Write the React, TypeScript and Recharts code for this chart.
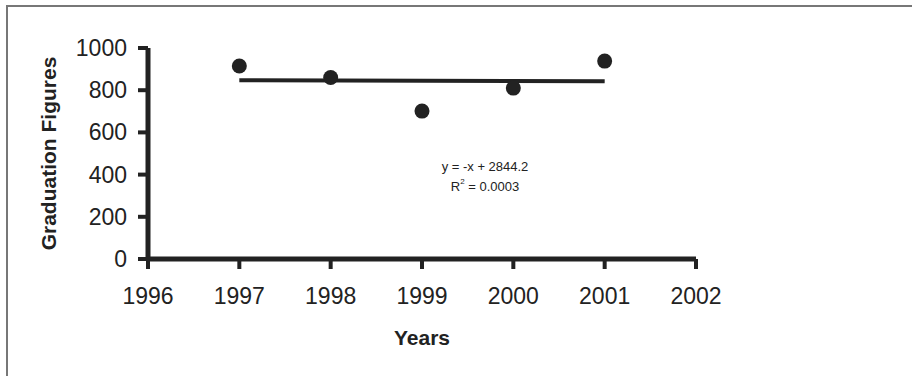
import {
  ComposedChart,
  Line,
  ReferenceLine,
  Scatter,
  XAxis,
  YAxis,
} from 'recharts';

const years = [1997, 1998, 1999, 2000, 2001];
const graduates = [915, 860, 701, 810, 938];

// trend line end points, from y = -x + 2844.2
const trendYears = [1997, 2001];
const trendValues = [847, 843];

const xTicks = [1996, 1997, 1998, 1999, 2000, 2001, 2002];
const yTicks = [0, 200, 400, 600, 800, 1000];

const equationText = 'y = -x + 2844.2';
const rSquaredText = '0.0003';

const points = years.map((year, i) => ({ year, value: graduates[i] }));
const trend = trendYears.map((year, i) => ({ year, value: trendValues[i] }));

const INK = '#222';
const FONT = '"Liberation Sans", Arial, Helvetica, sans-serif';
const TICK_LEN = 10;
const X_GAP = 18;
const Y_GAP = 11;

type ViewBox = { x: number; y: number; width: number; height: number };
type TickProps = { x?: number; y?: number; payload?: { value: number } };

function XTick({ x = 0, y = 0, payload }: TickProps) {
  const axisY = y - X_GAP - TICK_LEN;
  return (
    <g>
      <line x1={x} x2={x} y1={axisY} y2={axisY + TICK_LEN} stroke={INK} strokeWidth={4} />
      <text
        x={x}
        y={y + 9}
        textAnchor="middle"
        dominantBaseline="central"
        fontFamily={FONT}
        fontSize={23}
        fill={INK}
      >
        {payload?.value}
      </text>
    </g>
  );
}

function YTick({ x = 0, y = 0, payload }: TickProps) {
  const axisX = x + Y_GAP + TICK_LEN;
  return (
    <g>
      <line x1={axisX - TICK_LEN} x2={axisX} y1={y} y2={y} stroke={INK} strokeWidth={4} />
      <text
        x={x}
        y={y}
        textAnchor="end"
        dominantBaseline="central"
        fontFamily={FONT}
        fontSize={23}
        fill={INK}
      >
        {payload?.value}
      </text>
    </g>
  );
}

function YLabel({ viewBox }: { viewBox?: ViewBox }) {
  if (!viewBox) return null;
  const cx = viewBox.x + 48;
  const cy = viewBox.y + viewBox.height / 2;
  return (
    <text
      x={cx}
      y={cy}
      transform={`rotate(-90 ${cx} ${cy})`}
      textAnchor="middle"
      dominantBaseline="central"
      fontFamily={FONT}
      fontWeight="bold"
      fontSize={21}
      fill={INK}
    >
      Graduation Figures
    </text>
  );
}

function XLabel({ viewBox }: { viewBox?: ViewBox }) {
  if (!viewBox) return null;
  return (
    <text
      x={viewBox.x + viewBox.width / 2}
      y={viewBox.y + 78}
      textAnchor="middle"
      dominantBaseline="central"
      fontFamily={FONT}
      fontWeight="bold"
      fontSize={21}
      fill={INK}
    >
      Years
    </text>
  );
}

export default function App() {
  return (
    <div
      style={{
        position: 'fixed',
        left: 0,
        top: 0,
        width: 912,
        height: 376,
        background: '#fff',
      }}
    >
      <div
        style={{
          position: 'absolute',
          left: 6,
          top: 5,
          right: 0,
          bottom: 0,
          borderLeft: '2px solid #777',
          borderTop: '2px solid #777',
        }}
      />
      <div style={{ position: 'absolute', left: 0, top: 0 }}>
        <ComposedChart
          width={912}
          height={376}
          margin={{ top: 48, right: 216, bottom: 77, left: 0 }}
        >
          <XAxis
            type="number"
            dataKey="year"
            domain={[1996, 2002]}
            ticks={xTicks}
            allowDecimals={false}
            height={40}
            axisLine={false}
            tickLine={false}
            tickSize={TICK_LEN}
            tickMargin={X_GAP}
            tick={<XTick />}
            label={<XLabel />}
          />
          <YAxis
            type="number"
            dataKey="value"
            domain={[0, 1000]}
            ticks={yTicks}
            width={148}
            axisLine={false}
            tickLine={false}
            tickSize={TICK_LEN}
            tickMargin={Y_GAP}
            tick={<YTick />}
            label={<YLabel />}
          />
          <ReferenceLine x={1996} stroke={INK} strokeWidth={5} ifOverflow="visible" />
          <ReferenceLine y={0} stroke={INK} strokeWidth={5} ifOverflow="visible" />
          <Line
            data={trend}
            dataKey="value"
            type="linear"
            stroke={INK}
            strokeWidth={4}
            dot={false}
            activeDot={false}
            isAnimationActive={false}
          />
          <Scatter
            data={points}
            dataKey="value"
            fill={INK}
            shape={(props: { cx?: number; cy?: number }) => (
              <circle cx={props.cx} cy={props.cy} r={7.5} fill={INK} />
            )}
            isAnimationActive={false}
          />
          <text
            x={485}
            y={166}
            textAnchor="middle"
            dominantBaseline="central"
            fontFamily={FONT}
            fontSize={13}
            fill={INK}
          >
            {equationText}
          </text>
          <text
            x={485}
            y={186}
            textAnchor="middle"
            dominantBaseline="central"
            fontFamily={FONT}
            fontSize={13}
            fill={INK}
          >
            R<tspan dy={-5} fontSize={8}>2</tspan>
            <tspan dy={5}>{` = ${rSquaredText}`}</tspan>
          </text>
        </ComposedChart>
      </div>
    </div>
  );
}
